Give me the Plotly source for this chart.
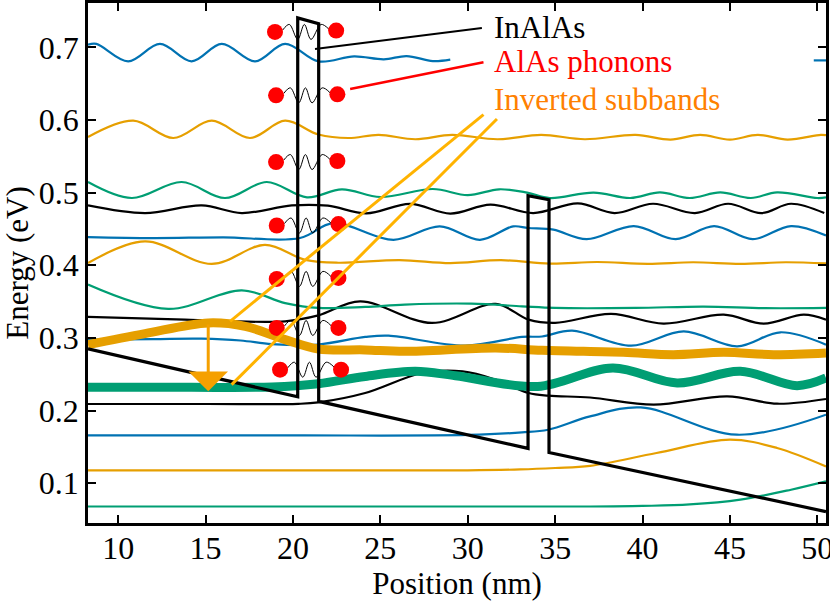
import plotly.graph_objects as go

SERIF = "Liberation Serif, Times New Roman, serif"
BLUE = "#0072B2"
ORANGE = "#E69F00"
GREEN = "#009E73"
BLACK = "#000000"

x_ticks = [10, 15, 20, 25, 30, 35, 40, 45, 50]
y_ticks = [0.1, 0.2, 0.3, 0.4, 0.5, 0.6, 0.7]

# conduction band edge (eV) vs position (nm)
cb_x = [8.27, 20.27, 20.27, 21.47, 21.47, 33.45, 33.45, 34.65, 34.65, 50.5]
cb_y = [0.285, 0.219, 0.7405, 0.7326, 0.2127, 0.148, 0.4957, 0.4902, 0.1424, 0.061]

# subband wavefunctions, offset to their energies (bottom to top)
wf1_x = [8.27, 20.0, 30.0, 37.0, 40.0, 42.7, 45.6, 48.5, 50.5]
wf1_y = [0.068, 0.068, 0.068, 0.068, 0.0688, 0.0708, 0.0775, 0.0911, 0.1025]

wf2_x = [8.27, 20.0, 30.0, 33.0, 35.0, 37.0, 40.8, 45.0, 47.7, 50.5]
wf2_y = [0.1177, 0.1177, 0.1178, 0.119, 0.121, 0.124, 0.1416, 0.160, 0.1485, 0.1231]

wf3_x = [8.27, 20.0, 30.0, 33.1, 34.6, 37.0, 39.9, 45.4, 50.5]
wf3_y = [0.1658, 0.1658, 0.1665, 0.170, 0.1737, 0.192, 0.2044, 0.1668, 0.1944]

wf4_x = [8.27, 15.0, 20.3, 21.45, 24.13, 27.4, 29.7, 31.6, 33.48, 34.63, 37.0, 40.64, 44.85, 47.7, 50.5]
wf4_y = [0.2091, 0.2091, 0.2093, 0.2113, 0.2242, 0.2518, 0.254, 0.2426, 0.2242, 0.2205, 0.218, 0.2081, 0.2196, 0.2095, 0.216]

wf5_x = [8.27, 14.0, 18.8, 21.45, 24.13, 27.0, 29.3, 34.0, 38.3, 41.98, 45.6, 48.85, 50.5]
wf5_y = [0.232, 0.232, 0.2325, 0.237, 0.247, 0.254, 0.248, 0.2332, 0.2587, 0.238, 0.254, 0.2343, 0.2449]

wf6_x = [8.27, 11.53, 15.15, 17.26, 19.55, 21.45, 24.13, 26.4, 31.6, 34.25, 38.9, 41.76, 44.65, 47.5, 50.5]
wf6_y = [0.2908, 0.306, 0.3207, 0.316, 0.2977, 0.2848, 0.2835, 0.2816, 0.2862, 0.283, 0.2802, 0.277, 0.2802, 0.277, 0.2793]

wf7_x = [8.27, 12.0, 14.78, 17.0, 18.79, 21.45, 24.13, 25.47, 29.86, 33.1, 34.25, 35.97, 39.35, 42.36, 45.42, 47.9, 50.5]
wf7_y = [0.2977, 0.2985, 0.299, 0.2965, 0.2915, 0.291, 0.3014, 0.3032, 0.2894, 0.3014, 0.302, 0.310, 0.2894, 0.309, 0.2885, 0.3078, 0.2908]

wf8_x = [8.27, 13.82, 19.55, 21.45, 23.84, 27.95, 31.6, 33.48, 35.0, 38.2, 41.2, 44.65, 46.94, 49.23, 50.5]
wf8_y = [0.3289, 0.3252, 0.3229, 0.331, 0.3504, 0.3207, 0.3468, 0.3252, 0.3207, 0.333, 0.3197, 0.332, 0.3197, 0.332, 0.3252]

wf9_x = [8.27, 12.86, 17.07, 19.55, 21.45, 24.13, 26.4, 30.2, 33.1, 35.0, 39.6, 43.5, 47.0, 50.5]
wf9_y = [0.3734, 0.340, 0.3655, 0.348, 0.3413, 0.3427, 0.3459, 0.3472, 0.3435, 0.3413, 0.3413, 0.3432, 0.341, 0.3413]

wf10_x = [8.27, 11.53, 15.35, 18.4, 20.7, 22.6, 26.1, 29.0, 31.9, 34.7, 37.4, 40.3, 42.9, 45.6, 48.2, 50.5]
wf10_y = [0.403, 0.4328, 0.402, 0.428, 0.4075, 0.4035, 0.4072, 0.403, 0.407, 0.4023, 0.4045, 0.402, 0.4042, 0.402, 0.4042, 0.4025]

wf11_x = [8.27, 12.0, 16.0, 20.4, 22.3, 25.75, 28.4, 30.7, 32.6, 33.45, 34.9, 36.8, 39.5, 41.9, 44.1, 46.3, 48.5, 50.5]
wf11_y = [0.4389, 0.4375, 0.4385, 0.4375, 0.458, 0.4351, 0.4535, 0.4351, 0.4535, 0.4513, 0.449, 0.436, 0.454, 0.436, 0.454, 0.436, 0.454, 0.441]

wf12_x = [8.27, 11.53, 14.78, 17.07, 19.93, 22.0, 24.2, 26.7, 29.0, 31.3, 33.75, 36.3, 38.4, 40.6, 43.0, 44.9, 46.8, 48.5, 50.4]
wf12_y = [0.4824, 0.4719, 0.4824, 0.4719, 0.4824, 0.482, 0.4715, 0.4845, 0.4712, 0.4835, 0.4719, 0.4852, 0.4719, 0.4847, 0.4719, 0.4847, 0.4719, 0.4847, 0.4719]

wf13_x = [8.27, 10.77, 13.63, 16.11, 18.5, 20.8, 22.8, 25.0, 28.0, 30.0, 31.8, 33.4, 34.7, 37.2, 39.3, 41.0, 42.7, 44.45, 46.2, 47.7, 50.0, 50.5]
wf13_y = [0.5146, 0.4926, 0.5146, 0.4926, 0.5146, 0.4935, 0.5046, 0.494, 0.505, 0.4965, 0.5046, 0.500, 0.4926, 0.500, 0.4926, 0.5003, 0.4926, 0.5003, 0.4926, 0.5003, 0.4926, 0.4935]

wf14_x = [8.27, 10.86, 13.15, 15.35, 17.54, 19.55, 21.45, 23.17, 24.9, 27.0, 29.1, 31.7, 34.2, 36.7, 39.6, 41.6, 43.3, 45.0, 46.6, 48.3, 50.2, 50.5]
wf14_y = [0.5765, 0.599, 0.5752, 0.599, 0.5752, 0.599, 0.580, 0.5752, 0.5795, 0.5735, 0.5795, 0.5735, 0.5795, 0.5735, 0.5795, 0.573, 0.5795, 0.573, 0.5795, 0.573, 0.5795, 0.579]

# top subband: hidden behind the label block between 29 and 49.8 nm
wf15_x = [8.27, 8.75, 10.57, 12.39, 14.2, 15.92, 17.83, 19.55, 21.45, 23.5, 25.2, 26.5, 28.0, 29.0, None, 49.8, 50.5]
wf15_y = [0.7035, 0.7047, 0.6807, 0.7047, 0.6807, 0.7047, 0.6807, 0.7047, 0.6807, 0.6876, 0.6835, 0.688, 0.681, 0.683, None, 0.682, 0.682]

# AlAs interface phonons: ball pairs across the first barrier
phonon_left_x = [18.97, 19.03, 19.03, 19.07, 19.07, 19.07, 19.26]
phonon_left_y = [0.7212, 0.6339, 0.5421, 0.4548, 0.3813, 0.3138, 0.2563]
phonon_right_x = [22.47, 22.54, 22.54, 22.6, 22.6, 22.6, 22.75]
phonon_right_y = [0.723, 0.6353, 0.5435, 0.4567, 0.3826, 0.3138, 0.2563]

# spring shape read from one ball pair (nm from left ball, units of amplitude)
spring_dx = [0.44, 0.82, 1.30, 1.68, 2.06, 2.64, 3.11]
spring_dy = [0.25, 1, -1, 1, -1, 1, 0.3]
spring_amp = 0.0103

thin = [
    (wf1_x, wf1_y, GREEN), (wf2_x, wf2_y, ORANGE), (wf3_x, wf3_y, BLUE),
    (wf4_x, wf4_y, BLACK), (wf7_x, wf7_y, BLUE), (wf8_x, wf8_y, BLACK),
    (wf9_x, wf9_y, GREEN), (wf10_x, wf10_y, ORANGE), (wf11_x, wf11_y, BLUE),
    (wf12_x, wf12_y, BLACK), (wf13_x, wf13_y, GREEN), (wf14_x, wf14_y, ORANGE),
    (wf15_x, wf15_y, BLUE),
]
thick = [(wf5_x, wf5_y, GREEN), (wf6_x, wf6_y, ORANGE)]

fig = go.Figure()
for xs, ys, color in thin:
    fig.add_trace(go.Scatter(x=xs, y=ys, mode="lines", connectgaps=False,
                             line=dict(color=color, width=2.2, shape="spline"),
                             hoverinfo="skip"))
for xs, ys, color in thick:
    fig.add_trace(go.Scatter(x=xs, y=ys, mode="lines",
                             line=dict(color=color, width=9, shape="spline"),
                             hoverinfo="skip"))

fig.add_trace(go.Scatter(x=cb_x, y=cb_y, mode="lines",
                         line=dict(color=BLACK, width=3.2), hoverinfo="skip"))

spring_x, spring_y = [], []
for x0, y0 in zip(phonon_left_x, phonon_left_y):
    spring_x += [x0 + d for d in spring_dx] + [None]
    spring_y += [y0 + spring_amp * d for d in spring_dy] + [None]
fig.add_trace(go.Scatter(x=spring_x, y=spring_y, mode="lines", connectgaps=False,
                         line=dict(color=BLACK, width=1, shape="spline"), hoverinfo="skip"))
fig.add_trace(go.Scatter(x=phonon_left_x + phonon_right_x, y=phonon_left_y + phonon_right_y,
                         mode="markers", marker=dict(color="#FF0000", size=16, line=dict(width=0)),
                         hoverinfo="skip"))

# label connectors
connectors = [
    (21.26, 0.6978, 30.81, 0.7267, BLACK, 2),
    (23.27, 0.6427, 30.9, 0.6794, "#FF0000", 2.5),
    (30.9, 0.6073, 16.4, 0.3229, "#FFB300", 3),
    (31.67, 0.6014, 16.49, 0.2357, "#FFB300", 3),
]
for x0, y0, x1, y1, color, w in connectors:
    fig.add_shape(type="line", x0=x0, y0=y0, x1=x1, y1=y1, xref="x", yref="y",
                  line=dict(color=color, width=w), layer="above")

labels = [
    ("InAlAs", 0.7275, BLACK),
    ("AlAs phonons", 0.680, "#FF0000"),
    ("Inverted subbands", 0.6287, "#FF8000"),
]
for text, y, color in labels:
    fig.add_annotation(x=31.4, y=y, xref="x", yref="y", text=text, showarrow=False,
                       xanchor="left", yanchor="middle",
                       font=dict(family=SERIF, size=31, color=color))

# transition arrow between the inverted subbands
fig.add_annotation(x=15.15, y=0.2265, ax=15.15, ay=0.3207, xref="x", yref="y",
                   axref="x", ayref="y", text="", showarrow=True,
                   arrowhead=1, arrowsize=2.2, arrowwidth=3, arrowcolor="#F5A000")

axis_common = dict(
    ticks="inside", ticklen=8, tickwidth=2, tickcolor=BLACK,
    showline=True, linewidth=2.6, linecolor=BLACK, mirror="ticks",
    showgrid=False, zeroline=False, ticklabeloverflow="allow", automargin=False,
    tickfont=dict(family=SERIF, size=32, color=BLACK),
)
fig.update_xaxes(range=[8.27, 50.5], tickvals=x_ticks, ticklabelstandoff=-5,
                 title=dict(text="Position (nm)", standoff=6,
                            font=dict(family=SERIF, size=31, color=BLACK)),
                 **axis_common)
fig.update_yaxes(range=[0.0453, 0.761], tickvals=y_ticks, tickformat=".1f",
                 ticklabelstandoff=0,
                 title=dict(text="Energy (eV)", standoff=29,
                            font=dict(family=SERIF, size=31, color=BLACK)),
                 **axis_common)

fig.update_layout(
    width=830, height=601,
    margin=dict(l=88, r=4, t=3, b=78, autoexpand=False),
    plot_bgcolor="white", paper_bgcolor="white",
    showlegend=False,
    font=dict(family=SERIF, size=31, color=BLACK),
)

# the page body keeps no default margin, so the figure sits at the window corner
fig.write_html("out.html", config={"displayModeBar": False},
               post_script="document.body.style.margin='0';")
